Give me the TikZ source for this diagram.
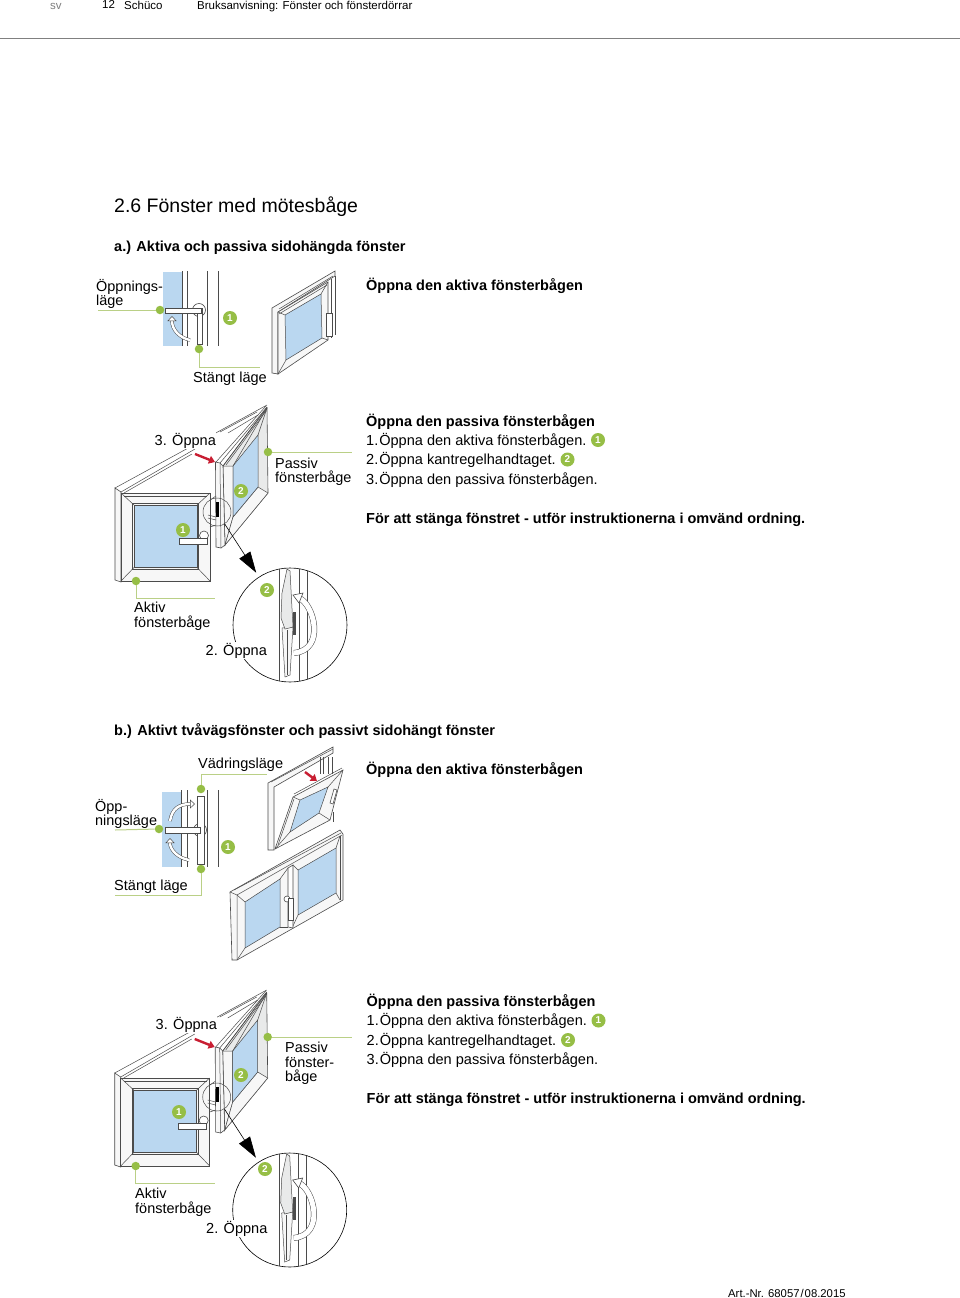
\documentclass[tikz,border=0pt]{standalone}
\usepackage{fontspec}
\setmainfont{Liberation Sans}
\usetikzlibrary{arrows.meta}
\definecolor{leafgreen}{RGB}{150,190,70}
\definecolor{leadergreen}{RGB}{186,208,134}
\definecolor{glassblue}{RGB}{186,215,240}
\definecolor{framegrey}{RGB}{233,234,234}
\definecolor{facewhite}{RGB}{247,247,247}
\definecolor{linegrey}{RGB}{75,75,75}
\definecolor{arrowred}{RGB}{200,30,50}
\tikzset{
	body/.style={anchor=base west, inner sep=0pt, font=\fontsize{14.55}{14.55}\selectfont},
	bodybold/.style={body, font=\fontsize{14.5}{14.5}\selectfont\bfseries},
	lab/.style={anchor=north west, inner sep=0pt, align=left, font=\fontsize{14.45}{14.4}\selectfont},
	small/.style={anchor=base west, inner sep=0pt, font=\fontsize{11.5}{11.5}\selectfont},
	greendot/.style={circle, fill=leafgreen, inner sep=0pt, minimum size=8.5pt},
	badge/.style={circle, fill=leafgreen, text=white, inner sep=0pt, minimum size=14pt, font=\fontsize{10}{10}\selectfont\bfseries},
	leader/.style={leadergreen, line width=1pt},
	glass/.style={fill=glassblue, draw=linegrey, line width=0.5pt},
	edge/.style={draw=linegrey, line width=0.5pt},
	frameface/.style={fill=facewhite, draw=linegrey, line width=0.6pt},
	greyface/.style={fill=framegrey, draw=linegrey, line width=0.6pt},
	turnarrow/.style={draw=linegrey, line width=0.5pt, double=white, double distance=2.4pt, -{Triangle[fill=white, length=5pt, width=9pt, line width=0.5pt]}},
	handlebar/.style={fill=white, draw=linegrey, line width=0.6pt},
	redarrow/.style={arrowred, line width=2.4pt, -{Triangle[length=6pt, width=8pt]}},
	openpair/.pic={
		\draw[frameface] (115,488) -- (121,492) -- (121,582) -- (115,580) -- cycle;
		\draw[edge] (115,488) -- (267,405);
		\draw[edge] (121,492) -- (195,449);
		\draw[edge] (124,493) -- (192,454);
		\draw[edge] (220,432) -- (257,412);
		\draw[edge] (228,433) -- (258,415);
		\draw[frameface] (121,493) rectangle (210,581);
		\draw[edge] (124,496.5) -- (207,496.5);
		\draw[edge] (132.5,503.5) rectangle (198.5,569);
		\draw[glass] (134,505) rectangle (197,567.5);
		\draw[edge] (121,493) -- (134,505);
		\draw[edge] (210,493) -- (197,505);
		\draw[edge] (121,581) -- (134,567.5);
		\draw[edge] (210,581) -- (197,567.5);
		\draw[edge] (210,500) -- (216,496);
		\draw[edge] (210,527) -- (216,525);
		\draw[greyface] (223,466) -- (267,408) -- (268,493) -- (225,545) -- cycle;
		\draw[fill=facewhite, edge] (223,466) -- (233,466) -- (233,517) -- (225,545) -- cycle;
		\draw[fill=facewhite, edge] (233,517) -- (258,487) -- (268,493) -- (225,545) -- cycle;
		\draw[glass] (233,466) -- (258,435) -- (258,487) -- (233,517) -- cycle;
		\draw[edge] (267,408) -- (258,435);
		\draw[edge] (233,466) -- (267,408);
		\draw[edge] (223,466) -- (267,407);
		\draw[edge] (220,463) -- (267,407);
		\draw[edge] (226,465) -- (266,411);
		\draw[edge] (216,462) -- (266,406);
		\draw[frameface] (215.5,462) -- (220,463) -- (223,466) -- (225,545) -- (221,548) -- (216,547) -- cycle;
		\draw[edge] (220,463) -- (221,548);
		\draw[handlebar] (204,535.5) circle (4.5pt);
		\draw[handlebar] (179,538) rectangle (207,544);
		\fill[black] (216,502) rectangle (219,517);
		\draw[edge] (208,515) -- (216,517);
		\draw[edge] (208,518) -- (216,520);
		\draw[redarrow] (195,454) -- (215,462);
		\node[circle, draw=linegrey, line width=0.5pt, minimum size=28pt, inner sep=0pt] (loupe) at (217,512) {};
		\node[circle, draw=black, line width=0.6pt, minimum size=114pt, inner sep=0pt] (detail) at (290,625) {};
		\draw[black, line width=0.6pt, shorten >=5pt, -{Triangle[length=21pt, width=13pt]}] (loupe) -- (detail);
		\begin{scope}
			\clip (290,625) circle (57pt);
			\foreach \xpos in {279.5,299,307} {
				\draw[edge] (\xpos,560) -- (\xpos,690);
			}
			\draw[fill=facewhite, draw=linegrey, line width=0.5pt] (282,628) -- (293,627) -- (290,675) -- (285,677) -- cycle;
			\draw[edge] (287,630) -- (287,675);
			\draw[fill=framegrey, draw=linegrey, line width=0.5pt] (287,569) -- (290,571) -- (293,627) -- (285,629) -- (281,618) -- (282,593) -- cycle;
			\fill[linegrey] (293,612) rectangle (296,635);
			\draw[draw=linegrey, line width=0.5pt, double=white, double distance=5pt] (299,598) .. controls (314,604) and (326,650) .. (294,653);
			\draw[handlebar] (293,595) -- (303,593) -- (299,603) -- cycle;
		\end{scope}
		\node[greendot] (activedot) at (136,581) {};
		\node[greendot] (passivedot) at (268,452) {};
		\coordinate (activeend) at (215,598);
		\coordinate (passiveend) at (352,452);
		\draw[leader] (activedot) |- (activeend);
		\draw[leader] (passivedot) -- (passiveend);
	},
	stepblock/.pic={
		\node[bodybold] at (0,0) {Öppna den passiva fönsterbågen};
		\node[body] at (0,19.4) {1.\kern1ptÖppna den aktiva fönsterbågen.};
		\node[body] at (0,38.8) {2.\kern1ptÖppna kantregelhandtaget.};
		\node[body] at (0,58.2) {3.\kern1ptÖppna den passiva fönsterbågen.};
		\node[bodybold] at (0,97) {För att stänga fönstret - utför instruktionerna i omvänd ordning.};
		\node[badge] (one) at (232,14) {1};
		\node[badge] (two) at (201.5,33.5) {2};
	},
}
\begin{document}
\begin{tikzpicture}[x=1pt, y=-1pt]
	\useasboundingbox (0,0) rectangle (960,1298);
	\fill[white] (0,0) rectangle (960,1298);
	\node[small, text=gray] (lang) at (50,10) {sv};
	\node[small] (pageno) at (102,9) {12};
	\node[small] (brand) at (124,10) {Schüco};
	\node[small] (manual) at (197,10) {Bruksanvisning: Fönster och fönsterdörrar};
	\coordinate (ruleleft) at (0,38.5);
	\coordinate (ruleright) at (960,38.5);
	\draw[gray, line width=0.7pt] (ruleleft) -- (ruleright);
	\node[anchor=base west, inner sep=0pt, font=\fontsize{19.5}{19.5}\selectfont] (title) at (114,212) {2.6 Fönster med mötesbåge};
	\node[bodybold] (heada) at (114,251) {a.) Aktiva och passiva sidohängda fönster};
	\node[bodybold] (headb) at (114,735) {b.) Aktivt tvåvägsfönster och passivt sidohängt fönster};
	\node[bodybold] (activea) at (366,290) {Öppna den aktiva fönsterbågen};
	\node[bodybold] (activeb) at (366,774) {Öppna den aktiva fönsterbågen};
	\pic at (366,426) {stepblock};
	\pic at (366.5,1006.5) {stepblock};
	\node[body] (artnr) at (728,1297) {\fontsize{11.3}{11.3}\selectfont Art.-Nr. 68057\kern1pt/\kern1pt08.2015};

	\fill[glassblue] (163,272) rectangle (182,346);
	\foreach \xpos in {182,187,207,218} {
		\draw[edge] (\xpos,271) -- (\xpos,346);
	}
	\draw[handlebar] (199,310) circle (6.5pt);
	\draw[handlebar] (197,308) rectangle (202,344);
	\draw[handlebar] (165,308) rectangle (201,313);
	\draw[turnarrow] (190,340) .. controls (180,338) and (172,330) .. (172,316);
	\node[greendot] (opendot) at (160,310) {};
	\node[greendot] (closedot) at (199,349) {};
	\coordinate (openend) at (98,310);
	\coordinate (closeend) at (260,367);
	\draw[leader] (opendot) -- (openend);
	\draw[leader] (closedot) |- (closeend);
	\node[badge] (turnbadge) at (230,318) {1};
	\draw[frameface] (272,308) -- (335,271) -- (335,276) -- (278,312) -- (278,374) -- (272,373) -- cycle;
	\draw[edge] (331,279) -- (331,338);
	\draw[edge] (335,276) -- (335,335);
	\draw[frameface] (278,312) -- (328,282) -- (328,340) -- (278,374) -- cycle;
	\draw[edge] (279,309) -- (333,276);
	\draw[edge] (279,314) -- (327,285);
	\draw[glass] (285,315) -- (321,294) -- (322,338) -- (286,360) -- cycle;
	\draw[edge] (278,312) -- (285,315);
	\draw[edge] (328,282) -- (321,294);
	\draw[edge] (328,340) -- (322,338);
	\draw[edge] (278,374) -- (286,360);
	\draw[handlebar] (326,313) rectangle (332,336);
	\node[lab] (openlabel) at (96,279) {Öppnings-\\läge};
	\node[body] (closelabel) at (193,382) {Stängt läge};

	\pic at (0,0) {openpair};
	\node[body, fill=white, inner sep=0.5pt] (threea) at (154,445) {3. Öppna};
	\node[lab] (passivea) at (275,457.5) {Passiv\\fönsterbåge};
	\node[lab] (activelabela) at (134,602) {Aktiv\\fönsterbåge};
	\node[body, fill=white, inner sep=1pt] (twoa) at (204.5,655) {2. Öppna};
	\node[badge] at (183,530) {1};
	\node[badge] at (241,491) {2};
	\node[badge] at (267,590) {2};

	\fill[glassblue] (162,792) rectangle (181,867);
	\foreach \xpos in {181,187,207,218} {
		\draw[edge] (\xpos,790) -- (\xpos,867);
	}
	\draw[handlebar] (200,830) circle (6.5pt);
	\draw[handlebar] (197,796) rectangle (204,864);
	\draw[handlebar] (165,827) rectangle (200,833);
	\draw[turnarrow] (170,821) .. controls (172,808) and (180,804) .. (195,804);
	\draw[turnarrow] (189,860) .. controls (178,858) and (170,850) .. (170,838);
	\node[greendot] (ventdot) at (201,789) {};
	\node[greendot] (opendotb) at (159,829) {};
	\node[greendot] (closedotb) at (201,869) {};
	\coordinate (ventend) at (267,774);
	\coordinate (openendb) at (115,830);
	\coordinate (closeendb) at (115,895);
	\draw[leader] (ventdot) |- (ventend);
	\draw[leader] (opendotb) -- (openendb);
	\draw[leader] (closedotb) |- (closeendb);
	\node[badge] (turnbadgeb) at (228,847) {1};
	\node[body] (ventlabel) at (198,768) {Vädringsläge};
	\node[lab] (openlabelb) at (95,799) {Öpp-\\ningsläge};
	\node[body] (closelabelb) at (114,890) {Stängt läge};

	\draw[frameface] (268,783) -- (333,747) -- (333,753) -- (274,787) -- (274,850) -- (268,850) -- cycle;
	\draw[edge] (271,782) -- (333,749);
	\foreach \xpos in {320,323,328,332} {
		\draw[edge] (\xpos,757) -- (\xpos,774);
	}
	\draw[frameface] (293,797) -- (343,770) -- (330,820) -- (275,849) -- cycle;
	\draw[edge] (294,794) -- (342,768);
	\draw[glass] (300,800) -- (328,787) -- (319,813) -- (290,832) -- cycle;
	\draw[edge] (293,797) -- (300,800);
	\draw[edge] (343,770) -- (328,787);
	\draw[edge] (330,820) -- (319,813);
	\draw[edge] (275,849) -- (290,832);
	\draw[edge] (278,845) -- (294,799);
	\draw[handlebar] (334,789) -- (337,790) -- (333,804) -- (330,803) -- cycle;
	\draw[edge] (333,812) -- (333,822);
	\draw[redarrow] (305,772) -- (317,781);

	\draw[frameface] (230,892) -- (340,830) -- (343,834) -- (343,900) -- (237,960) -- (232,960) -- cycle;
	\draw[edge] (230,892) -- (237,895) -- (237,960);
	\draw[edge] (234,890) -- (341,833);
	\draw[edge] (237,895) -- (342,835);
	\draw[edge] (340,836) -- (340,900);
	\draw[glass] (245,902) -- (280,879) -- (280,927) -- (245,948) -- cycle;
	\draw[glass] (298,870) -- (336,848) -- (336,893) -- (298,915) -- cycle;
	\draw[edge] (237,895) -- (245,902);
	\draw[edge] (288,868) -- (280,879);
	\draw[edge] (288,927) -- (280,927);
	\draw[edge] (237,960) -- (245,948);
	\draw[edge] (293,865) -- (298,870);
	\draw[edge] (340,836) -- (336,848);
	\draw[edge] (340,900) -- (336,893);
	\draw[edge] (293,926) -- (298,915);
	\draw[fill=white, draw=linegrey, line width=0.6pt] (288,868) -- (293,865) -- (293,928) -- (288,927) -- cycle;
	\draw[handlebar] (287,899) circle (3pt);
	\draw[handlebar] (288,898) rectangle (293,920);

	\pic at (-0.3,585) {openpair};
	\node[body, fill=white, inner sep=0.5pt] (threeb) at (155,1029) {3. Öppna};
	\node[lab] (passiveb) at (285,1042) {Passiv\\fönster-\\båge};
	\node[lab] (activelabelb) at (135,1188) {Aktiv\\fönsterbåge};
	\node[body, fill=white, inner sep=1pt] (twob) at (205,1233) {2. Öppna};
	\node[badge] at (179,1112) {1};
	\node[badge] at (241,1075) {2};
	\node[badge] at (265,1169) {2};
\end{tikzpicture}
\end{document}
